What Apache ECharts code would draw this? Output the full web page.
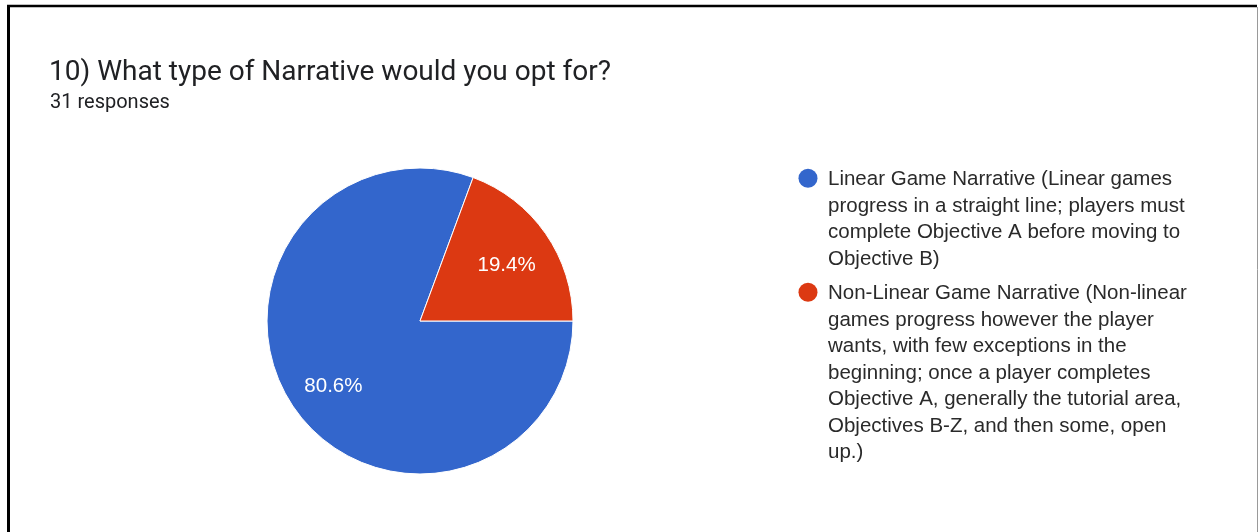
<!DOCTYPE html>
<html>
<head>
<meta charset="utf-8">
<script src="https://cdn.jsdelivr.net/npm/echarts@6/dist/echarts.min.js"></script>
<style>
html,body{margin:0;padding:0;background:#fff;}
#chart{width:1258px;height:532px;}
</style>
</head>
<body>
<div id="chart"></div>
<script>
// ---- data ----
const titleText = '10) What type of Narrative would you opt for?';
const subtitleText = '31 responses';
const categories = [
  'Linear Game Narrative (Linear games\nprogress in a straight line; players must\ncomplete Objective A before moving to\nObjective B)',
  'Non-Linear Game Narrative (Non-linear\ngames progress however the player\nwants, with few exceptions in the\nbeginning; once a player completes\nObjective A, generally the tutorial area,\nObjectives B-Z, and then some, open\nup.)'
];
const responses = [25, 6];
const colors = ['#3366cc', '#dc3912'];

// ---- layout helpers ----
const CX = 420, CY = 321, R = 153;
const total = responses.reduce((a, b) => a + b, 0);
const labelShift = 0.17 * R;
let acc = 0;
const labelOffsets = responses.map(v => {
  const mid = (acc + v / 2) / total * 2 * Math.PI;
  acc += v;
  return [labelShift * Math.cos(mid), labelShift * Math.sin(mid) + 5];
});

const LEG_X = 808, LEG_TEXT_X = 828, LINE_H = 26.5, ITEM_GAP = 8;
const legendGraphics = [];
let ly = 165;
categories.forEach((name, i) => {
  const nLines = name.split('\n').length;
  legendGraphics.push({
    type: 'circle',
    shape: { cx: LEG_X, cy: ly + LINE_H / 2, r: 9.5 },
    style: { fill: colors[i] },
    silent: true
  });
  legendGraphics.push({
    type: 'text',
    x: LEG_TEXT_X, y: ly + 1.5,
    style: {
      text: name,
      fill: '#2a2a2a',
      font: '20.5px "Liberation Sans", Arial, sans-serif',
      lineHeight: LINE_H,
      verticalAlign: 'top',
      align: 'left'
    },
    silent: true
  });
  ly += nLines * LINE_H + ITEM_GAP;
});

const chart = echarts.init(document.getElementById('chart'), null, { renderer: 'canvas' });
chart.setOption({
  backgroundColor: '#ffffff',
  animation: false,
  title: [
    {
      text: titleText, left: 49, top: 59, padding: 0,
      textStyle: { fontFamily: 'Roboto', fontSize: 28, fontWeight: 'normal', color: '#202124' }
    },
    {
      text: subtitleText, left: 50, top: 93, padding: 0,
      textStyle: { fontFamily: 'Roboto', fontSize: 20, fontWeight: 'normal', color: '#202124' }
    }
  ],
  series: [{
    type: 'pie',
    center: [CX, CY],
    radius: [0, R],
    startAngle: 0,
    clockwise: true,
    silent: true,
    data: categories.map((n, i) => ({ name: n, value: responses[i], itemStyle: { color: colors[i] } })),
    itemStyle: { borderColor: '#ffffff', borderWidth: 1 },
    label: {
      show: true,
      position: 'inside',
      formatter: p => (p.value / total * 100).toFixed(1) + '%',
      color: '#ffffff',
      fontFamily: '"Liberation Sans", Arial, sans-serif',
      fontSize: 20.5
    },
    labelLayout: p => ({ dx: labelOffsets[p.dataIndex][0], dy: labelOffsets[p.dataIndex][1] }),
    labelLine: { show: false }
  }],
  graphic: [
    { type: 'line', shape: { x1: 8.5, y1: 5, x2: 8.5, y2: 532 }, style: { stroke: '#000', lineWidth: 3 }, silent: true },
    { type: 'line', shape: { x1: 7, y1: 6, x2: 1257, y2: 6 }, style: { stroke: '#000', lineWidth: 2.5 }, silent: true },
    { type: 'line', shape: { x1: 1257.5, y1: 7, x2: 1257.5, y2: 532 }, style: { stroke: '#9a9a9a', lineWidth: 1 }, silent: true }
  ].concat(legendGraphics)
});
</script>
</body>
</html>
